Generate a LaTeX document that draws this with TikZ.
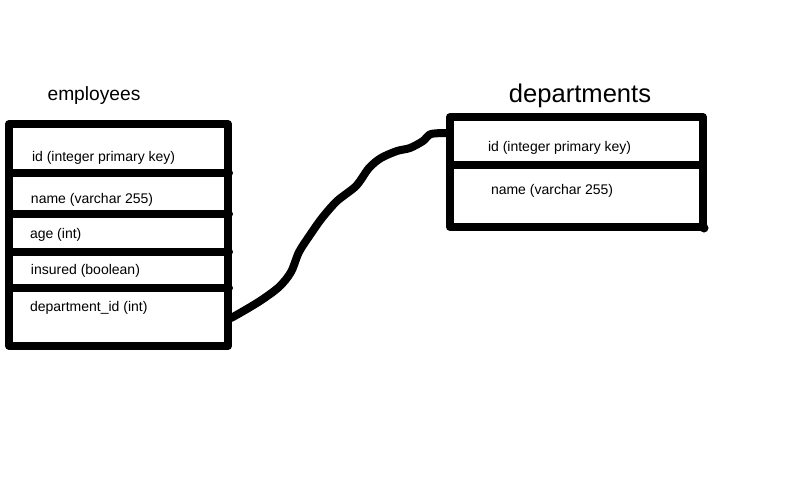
\documentclass[tikz,border=0pt]{standalone}
\usepackage{fontspec}
\setmainfont{Liberation Sans}

\begin{document}
\begin{tikzpicture}[x=0.75pt, y=-0.75pt, line width=6pt,
                    table/.style={draw, rectangle, inner sep=0pt,
                                  line join=round},
                    field/.style={anchor=west, inner sep=0pt,
                                  font=\fontsize{10.5}{12}\selectfont},
                    link/.style={line cap=round, line join=round}]
  \useasboundingbox (0,0) rectangle (800,480);

  % the two tables
  \node[table, minimum width=164.25pt, minimum height=166.5pt]
       (employees) at (118.5,235) {};
  \node[table, minimum width=189.75pt, minimum height=82.5pt]
       (departments) at (576.5,172) {};

  \node[font=\fontsize{14.4}{16}\selectfont] (empTitle) at (94,96) {employees};
  \node[font=\fontsize{19.2}{22}\selectfont] (depTitle) at (580,96) {departments};

  % row lines
  \foreach \y in {173,214,251.5,288} {
      \draw[link] (9,\y) -- (229,\y);
  }
  \draw[link] (450,165) -- (703,165);
  \fill (704,228) circle (4.5);

  % fields
  \foreach \n/\x/\y/\t in {e1/28/157.5/{id (integer primary key)},
          e2/27/200/{name (varchar 255)}, e3/26/234.5/{age (int)},
          e4/27/270.5/{insured (boolean)}, e5/26/308/{department\_id (int)},
          d1/484/147.5/{id (integer primary key)},
          d2/487/190.5/{name (varchar 255)}} {
      \node[field] (\n) at (\x,\y) {\t};
  }

  % foreign key link
  \coordinate (fk) at (231,318);
  \coordinate (pk) at (449,133);
  \draw[link] plot[smooth, tension=0.5] coordinates {(fk) (240,313)
      (260,301) (279,287) (291,272) (299,252) (310,235) (322,218)
      (337,201) (356,186) (369,168) (381,158) (397,151) (410,148)
      (423,141) (431,134) (pk)};
\end{tikzpicture}
\end{document}
